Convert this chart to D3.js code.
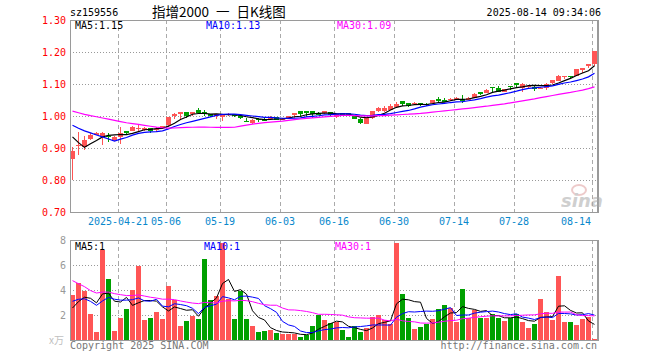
<!DOCTYPE html>
<html><head><meta charset="utf-8">
<script src="https://cdn.jsdelivr.net/npm/d3@7/dist/d3.min.js"></script>
<style>
html,body{margin:0;padding:0;background:#fff;}
svg{display:block;}
.mono{font-family:"DejaVu Sans Mono","Liberation Mono",monospace;font-size:10px;}
</style></head>
<body>
<svg id="chart" width="660" height="360"></svg>
<script>
// ---------- DATA ----------
const dates = [
"2025-04-09","2025-04-10","2025-04-11","2025-04-14","2025-04-15","2025-04-16","2025-04-17","2025-04-18",
"2025-04-21","2025-04-22","2025-04-23","2025-04-24","2025-04-25","2025-04-28","2025-04-29","2025-04-30",
"2025-05-06","2025-05-07","2025-05-08","2025-05-09","2025-05-12","2025-05-13","2025-05-14","2025-05-15","2025-05-16",
"2025-05-19","2025-05-20","2025-05-21","2025-05-22","2025-05-23","2025-05-26","2025-05-27","2025-05-28","2025-05-29","2025-05-30",
"2025-06-03","2025-06-04","2025-06-05","2025-06-06","2025-06-09","2025-06-10","2025-06-11","2025-06-12","2025-06-13",
"2025-06-16","2025-06-17","2025-06-18","2025-06-19","2025-06-20","2025-06-23","2025-06-24","2025-06-25","2025-06-26","2025-06-27",
"2025-06-30","2025-07-01","2025-07-02","2025-07-03","2025-07-04","2025-07-07","2025-07-08","2025-07-09","2025-07-10","2025-07-11",
"2025-07-14","2025-07-15","2025-07-16","2025-07-17","2025-07-18","2025-07-21","2025-07-22","2025-07-23","2025-07-24","2025-07-25",
"2025-07-28","2025-07-29","2025-07-30","2025-07-31","2025-08-01","2025-08-04","2025-08-05","2025-08-06","2025-08-07","2025-08-08",
"2025-08-11","2025-08-12","2025-08-13","2025-08-14"];

const openP = [0.867,0.908,0.902,0.928,0.942,0.938,0.938,0.926,0.933,0.953,
0.952,0.960,0.958,0.961,0.957,0.961,0.971,1.003,1.005,1.012,
1.008,1.018,1.012,1.006,1.003,1.000,1.002,1.006,1.000,0.985,
0.979,0.991,0.990,0.990,0.997,0.990,0.994,1.003,1.015,1.015,
1.015,1.008,1.008,1.012,0.997,1.009,1.008,0.999,0.992,0.976,
0.994,1.016,1.016,1.020,1.028,1.047,1.041,1.037,1.041,1.038,
1.041,1.052,1.050,1.049,1.053,1.053,1.051,1.057,1.074,1.072,
1.091,1.086,1.076,1.095,1.103,1.086,1.093,1.090,1.087,1.086,
1.103,1.109,1.124,1.126,1.126,1.147,1.160,1.161];
const highP = [0.902,0.950,0.939,0.947,0.951,0.950,0.948,0.937,0.967,0.953,
0.969,0.972,0.967,0.961,0.965,0.970,0.998,1.010,1.012,1.012,
1.013,1.024,1.020,1.006,1.006,1.003,1.010,1.006,1.003,0.995,
0.990,0.995,0.993,0.999,0.998,0.994,1.001,1.010,1.016,1.016,
1.016,1.011,1.016,1.013,1.007,1.010,1.009,1.003,0.993,0.997,
1.016,1.028,1.031,1.036,1.044,1.047,1.041,1.044,1.041,1.040,
1.051,1.060,1.057,1.056,1.060,1.066,1.058,1.071,1.074,1.083,
1.091,1.093,1.085,1.095,1.103,1.102,1.098,1.098,1.091,1.102,
1.112,1.127,1.126,1.126,1.148,1.149,1.163,1.204];
const lowP = [0.800,0.879,0.895,0.924,0.940,0.908,0.920,0.922,0.913,0.940,
0.952,0.952,0.952,0.948,0.949,0.960,0.967,0.990,0.990,0.995,
1.000,1.010,1.000,0.996,0.990,0.985,1.000,0.998,0.990,0.982,
0.976,0.980,0.985,0.988,0.987,0.988,0.993,0.994,0.998,0.997,
0.995,1.003,1.005,0.996,0.995,1.000,1.000,0.990,0.974,0.974,
0.992,1.014,1.012,1.020,1.028,1.030,1.028,1.034,1.030,1.032,
1.040,1.040,1.045,1.046,1.050,1.041,1.050,1.056,1.066,1.071,
1.074,1.075,1.075,1.080,1.086,1.076,1.088,1.078,1.084,1.082,
1.101,1.108,1.116,1.115,1.125,1.134,1.150,1.156];
const closeP = [0.892,0.910,0.926,0.941,0.948,0.948,0.935,0.933,0.947,0.947,
0.967,0.963,0.961,0.953,0.960,0.969,0.998,1.006,1.012,1.000,
1.011,1.010,1.009,0.999,1.005,1.003,1.007,1.002,0.994,0.982,
0.989,0.989,0.988,0.998,0.989,0.992,1.000,1.009,1.006,1.013,
1.006,1.006,1.015,1.004,1.006,1.003,1.003,0.992,0.978,0.997,
1.016,1.026,1.026,1.030,1.038,1.038,1.032,1.041,1.034,1.035,
1.051,1.050,1.048,1.054,1.056,1.051,1.057,1.070,1.072,1.082,
1.089,1.076,1.084,1.093,1.101,1.101,1.095,1.088,1.089,1.101,
1.111,1.126,1.126,1.124,1.147,1.149,1.162,1.203];
// volume (万)
const volume = [3.63,4.56,3.95,2.08,0.64,7.20,4.88,0.72,1.76,2.48,
4.00,5.95,1.60,1.76,2.24,1.70,4.32,3.20,1.12,1.55,
1.92,1.70,6.48,3.17,3.52,7.73,3.31,1.70,3.89,1.70,
1.09,0.64,0.69,0.83,0.56,0.48,0.48,0.48,0.27,0.43,
1.12,2.00,1.63,1.36,1.44,0.80,0.24,1.12,0.64,0.96,
1.84,2.00,1.60,1.28,7.76,3.68,1.76,0.88,1.04,1.28,
1.68,2.48,2.80,2.56,1.44,4.08,1.76,2.40,1.76,1.76,
2.08,1.76,1.52,1.76,2.08,1.44,0.96,1.28,3.28,2.24,
1.60,5.12,1.44,1.44,1.20,1.68,1.84,0.08];
// sessions before the first visible day (only feed the moving averages)
const priorCloses = [1.060,1.070,1.065,1.055,1.060,1.050,1.045,1.055,1.060,1.050,
1.040,1.045,1.035,1.040,1.030,1.040,0.990,0.975,0.985,0.993,
1.000,1.010,1.005,1.012,1.008,1.000,1.000,0.885,0.897];
const priorVolumes = [12.0,11.0,11.5,6.5,5.0,4.8,4.5,4.2,4.6,4.0,
4.4,4.3,4.7,4.1,4.5,4.2,4.4,4.3,4.2,4.3,
3.0,3.5,4.2,3.8,3.7,2.0,2.2,2.5,2.47];

const tickDates = ["2025-04-21","2025-05-06","2025-05-19","2025-06-03","2025-06-16","2025-06-30","2025-07-14","2025-07-28","2025-08-14"];
const tickLabels = ["2025-04-21","05-06","05-19","06-03","06-16","06-30","07-14","07-28","08-14"];
const priceTicks = [0.70,0.80,0.90,1.00,1.10,1.20,1.30];
const volTicks = [2,4,6,8];
const maPeriods = [5,10,30];
const maColors = ["#000000","#0000ff","#ff00ff"];
const priceMaLabels = ["MA5:1.15","MA10:1.13","MA30:1.09"];
const volMaLabels = ["MA5:1","MA10:1","MA30:1"];
const headerCode = "sz159556";
const headerTitle = "指增2000 一 日K线图";
const headerTime = "2025-08-14 09:34:06";

// ---------- HELPERS ----------
function movingAvg(series, prior, n){
  const full = prior.concat(series), off = prior.length;
  return series.map((_, i) => d3.mean(full.slice(off + i - n + 1, off + i + 1)));
}

// ---------- LAYOUT ----------
const L = 70, R = 597;
const pTop = 20, pBot = 212;
const vTop = 240, vBot = 340;
const UP = "#ff5555", DOWN = "#00a000", GRID = "#aaaaaa", FRAME = "#9a9a9a";

const svg = d3.select("#chart");
svg.append("rect").attr("width",660).attr("height",360).attr("fill","#fff");

const idx = d3.range(dates.length);
const x = d3.scaleBand().domain(idx).range([L, L + 6*dates.length]).padding(0);
const cx = i => x(i) + 2.5;
const y = d3.scaleLinear().domain([0.70, 1.30]).range([pBot, pTop]);
const yv = d3.scaleLinear().domain([0, 8]).range([vBot, vTop]);

const tickIdx = tickDates.map(d => dates.indexOf(d));

// ---------- GRID ----------
const g = svg.append("g").attr("shape-rendering","crispEdges");
g.selectAll(".hp").data(priceTicks.filter(t => t > 0.75 && t < 1.25)).join("line")
  .attr("x1",L).attr("x2",R).attr("y1",d=>Math.round(y(d))+0.5).attr("y2",d=>Math.round(y(d))+0.5)
  .attr("stroke","#999").attr("stroke-dasharray","1,2");
g.selectAll(".hv").data(volTicks.filter(t => t < 8)).join("line")
  .attr("x1",L).attr("x2",R).attr("y1",d=>Math.round(yv(d))+0.5).attr("y2",d=>Math.round(yv(d))+0.5)
  .attr("stroke","#999").attr("stroke-dasharray","1,2");
[[pTop,pBot],[vTop,vBot]].forEach(([a,b])=>{
  g.selectAll(null).data(tickIdx).join("line")
    .attr("x1",i=>x(i)+0.5).attr("x2",i=>x(i)+0.5).attr("y1",a).attr("y2",b)
    .attr("stroke",GRID).attr("stroke-dasharray","4,3");
});

// ---------- CANDLES ----------
const cg = svg.append("g").attr("shape-rendering","crispEdges");
const colorOf = i => closeP[i] >= openP[i] ? UP : DOWN;
cg.selectAll(".wick").data(idx).join("rect")
  .attr("x", i => x(i)+2).attr("width",1)
  .attr("y", i => y(highP[i])).attr("height", i => Math.max(1, y(lowP[i]) - y(highP[i])))
  .attr("fill", colorOf);
cg.selectAll(".body").data(idx).join("rect")
  .attr("x", i => x(i)).attr("width", 5)
  .attr("y", i => y(Math.max(openP[i], closeP[i])))
  .attr("height", i => Math.max(1.5, Math.abs(y(openP[i]) - y(closeP[i]))))
  .attr("fill", colorOf);

maPeriods.forEach((n, k) => {
  const m = movingAvg(closeP, priorCloses, n);
  svg.append("path").datum(m)
    .attr("d", d3.line().x((d,i)=>cx(i)).y(d=>y(d)))
    .attr("fill","none").attr("stroke",maColors[k]).attr("stroke-width",1.2);
});

// ---------- VOLUME ----------
const vg = svg.append("g").attr("shape-rendering","crispEdges");
vg.selectAll(".vol").data(idx).join("rect")
  .attr("x", i => x(i)).attr("width",5)
  .attr("y", i => yv(volume[i])).attr("height", i => vBot - yv(volume[i]))
  .attr("fill", colorOf);
maPeriods.forEach((n, k) => {
  const m = movingAvg(volume, priorVolumes, n);
  svg.append("path").datum(m)
    .attr("d", d3.line().x((d,i)=>cx(i)).y(d=>yv(d)))
    .attr("fill","none").attr("stroke",maColors[k]).attr("stroke-width",1);
});

// ---------- FRAMES ----------
const fg = svg.append("g").attr("shape-rendering","crispEdges").attr("fill","none").attr("stroke",FRAME);
fg.append("rect").attr("x",L+0.5).attr("y",pTop+0.5).attr("width",R-L).attr("height",pBot-pTop);
fg.append("rect").attr("x",L+0.5).attr("y",vTop+0.5).attr("width",R-L).attr("height",vBot-vTop);
fg.append("line").attr("x1",R+1.5).attr("x2",R+1.5).attr("y1",pTop).attr("y2",pBot+1);
fg.append("line").attr("x1",R+1.5).attr("x2",R+1.5).attr("y1",vTop).attr("y2",vBot+1);

// ---------- WATERMARK ----------
const wm = svg.append("g").attr("opacity",0.55);
wm.append("ellipse").attr("cx",579).attr("cy",190).attr("rx",7).attr("ry",5)
  .attr("fill","none").attr("stroke","#e0a0a0").attr("stroke-width",2);
wm.append("text").attr("x",561).attr("y",207).text("sina")
  .attr("font-family","DejaVu Sans").attr("font-style","italic").attr("font-weight","bold")
  .attr("font-size",18).attr("fill","#a8a8a8");

// ---------- AXES TEXT ----------
const yAxis = d3.axisLeft(y).tickValues(priceTicks).tickFormat(d3.format(".2f")).tickSize(0).tickPadding(4);
const ya = svg.append("g").attr("transform",`translate(${L},0)`).call(yAxis);
ya.select(".domain").remove();
ya.selectAll("text").attr("class","mono").attr("fill","#ff0000").attr("font-family",null).attr("font-size",null);

const vAxis = d3.axisLeft(yv).tickValues(volTicks).tickFormat(d3.format("d")).tickSize(0).tickPadding(4);
const va = svg.append("g").attr("transform",`translate(${L},0)`).call(vAxis);
va.select(".domain").remove();
va.selectAll("text").attr("class","mono").attr("fill","#999").attr("font-family",null).attr("font-size",null);

const xAxis = d3.axisBottom(x).tickValues(tickIdx).tickFormat((d,k)=>tickLabels[k]).tickSize(0).tickPadding(0);
const xa = svg.append("g").attr("transform",`translate(0,${pBot})`).call(xAxis);
xa.select(".domain").remove();
xa.selectAll(".tick").attr("transform", d => `translate(${x(d)},0)`);
xa.selectAll("text").attr("class","mono").attr("fill","#0a88cc").attr("font-family",null).attr("font-size",null)
  .attr("y",13).attr("dy",0)
  .each(function(){
    const t = d3.select(this), par = d3.select(this.parentNode);
    const d = par.datum(), w = this.getComputedTextLength();
    if (x(d) + w/2 > R) { t.attr("text-anchor","end").attr("x", R - 6 - x(d)); }
  });

// ---------- LABELS ----------
const labX = [75, 206, 337];
priceMaLabels.forEach((s,k)=> svg.append("text").attr("class","mono").attr("x",labX[k]).attr("y",29).attr("fill",maColors[k]).text(s));
volMaLabels.forEach((s,k)=> svg.append("text").attr("class","mono").attr("x",[75,204,335][k]).attr("y",250).attr("fill",maColors[k]).text(s));

svg.append("text").attr("class","mono").attr("x",70).attr("y",16).attr("fill","#000").text(headerCode);
svg.append("text").attr("x",152).attr("y",17).attr("fill","#000")
  .style("white-space","pre").style("word-spacing","4px")
  .attr("font-family","'Noto Sans CJK SC',sans-serif").attr("font-size",13.5).text(headerTitle);
svg.append("text").attr("class","mono").attr("x",601).attr("y",16).attr("text-anchor","end").attr("fill","#000").text(headerTime);

svg.append("text").attr("class","mono").attr("x",70).attr("y",349).attr("fill","#777").text("Copyright 2025 SINA.COM");
svg.append("text").attr("class","mono").attr("x",597).attr("y",349).attr("text-anchor","end").attr("fill","#777").text("http://finance.sina.com.cn");
svg.append("text").attr("x",64).attr("y",344).attr("text-anchor","end").attr("fill","#c0c0c0")
  .attr("font-family","'Noto Sans CJK SC',sans-serif").attr("font-size",10).text("x万");
</script>
</body></html>
